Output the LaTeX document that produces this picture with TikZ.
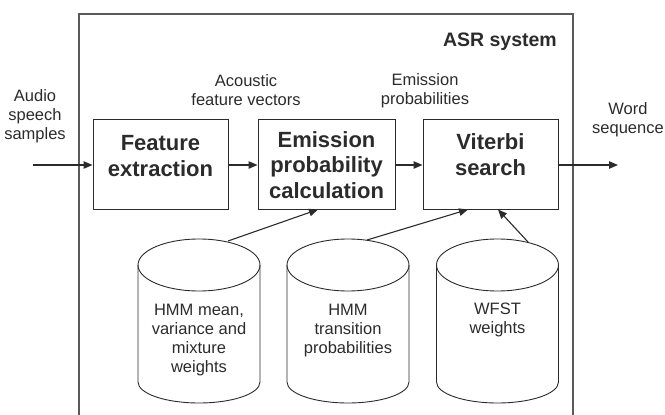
\documentclass[tikz,border=0pt]{standalone}
\usepackage{fontspec}
\setmainfont{Liberation Sans}
\usetikzlibrary{arrows.meta,calc}
\definecolor{ink}{HTML}{2B2B2B}
\definecolor{frame}{HTML}{5A5A5A}
\begin{document}
\begin{tikzpicture}[x=1pt,y=-1pt,
  lbl/.style={font=\fontsize{16.5}{19}\selectfont, text=ink, align=center, inner sep=0pt, anchor=base},
  boxtxt/.style={font=\fontsize{22}{25.5}\selectfont\bfseries, text=ink, align=center, inner sep=0pt, anchor=base},
  stage/.style={draw=ink, line width=1pt, inner sep=0pt, minimum width=135pt, minimum height=90pt},
  flow/.style={draw=ink, line width=1.1pt, -{Triangle[length=9pt,width=7.5pt]}},
  db/.style={draw=ink, line width=0.9pt}]
\useasboundingbox (0,0) rectangle (665,415);

% system boundary, open at the bottom
\draw[frame, line width=1.5pt] (79,420) -- (79,14) -- (573,14) -- (573,420);
\node[font=\fontsize{19.5}{23}\selectfont\bfseries, text=ink, inner sep=0pt, anchor=base east] (sys) at (557,46) {ASR system};

% processing stages (multi-line texts are placed by their last baseline)
\node[stage] (feat) at (160.5,164) {};
\node[stage, minimum width=137pt] (emis) at (326.5,164) {};
\node[stage] (vit)  at (490.5,164) {};
\node[boxtxt] (featT) at (160.5,176) {Feature\\extraction};
\node[boxtxt] (emisT) at (326.5,198) {Emission\\probability\\calculation};
\node[boxtxt] (vitT)  at (490.5,175) {Viterbi\\search};

% signal labels
\node[lbl] (audio) at (35,139) {Audio\\speech\\samples};
\node[lbl] (afv)   at (246,105) {Acoustic\\feature vectors};
\node[lbl] (ep)    at (425,104) {Emission\\probabilities};
\node[lbl] (word)  at (628,133) {Word\\sequence};

% main flow
\coordinate (in) at (33,165);
\coordinate (out) at (618,165);
\draw[flow] (in) -- (feat.west |- in);
\draw[flow] (feat.east |- in) -- (emis.west |- in);
\draw[flow] (emis.east |- in) -- (vit.west |- in);
\draw[flow] (vit.east |- in) -- (out);

% model databases
\foreach \cx in {199, 348, 497.5}{
  \draw[db] (\cx,265) ellipse [x radius=61pt, y radius=26pt];
  \draw[db] (\cx-61,265) -- (\cx-61,382)
     arc[start angle=180, end angle=360, x radius=61pt, y radius=21pt] -- (\cx+61,265);
}
\node[lbl] (db1) at (199,372) {HMM mean,\\variance and\\mixture\\weights};
\node[lbl] (db2) at (348,353) {HMM\\transition\\probabilities};
\node[lbl] (db3) at (497.5,333) {WFST\\weights};

\coordinate (db1top) at (228,241);
\coordinate (db2top) at (367,240);
\coordinate (db3top) at (528,242);
\draw[flow] (db1top) -- ([xshift=-8.5pt]emis.south);
\draw[flow] (db2top) -- ([xshift=-22.5pt]vit.south);
\draw[flow] (db3top) -- ([xshift=7.5pt]vit.south);
\end{tikzpicture}
\end{document}
